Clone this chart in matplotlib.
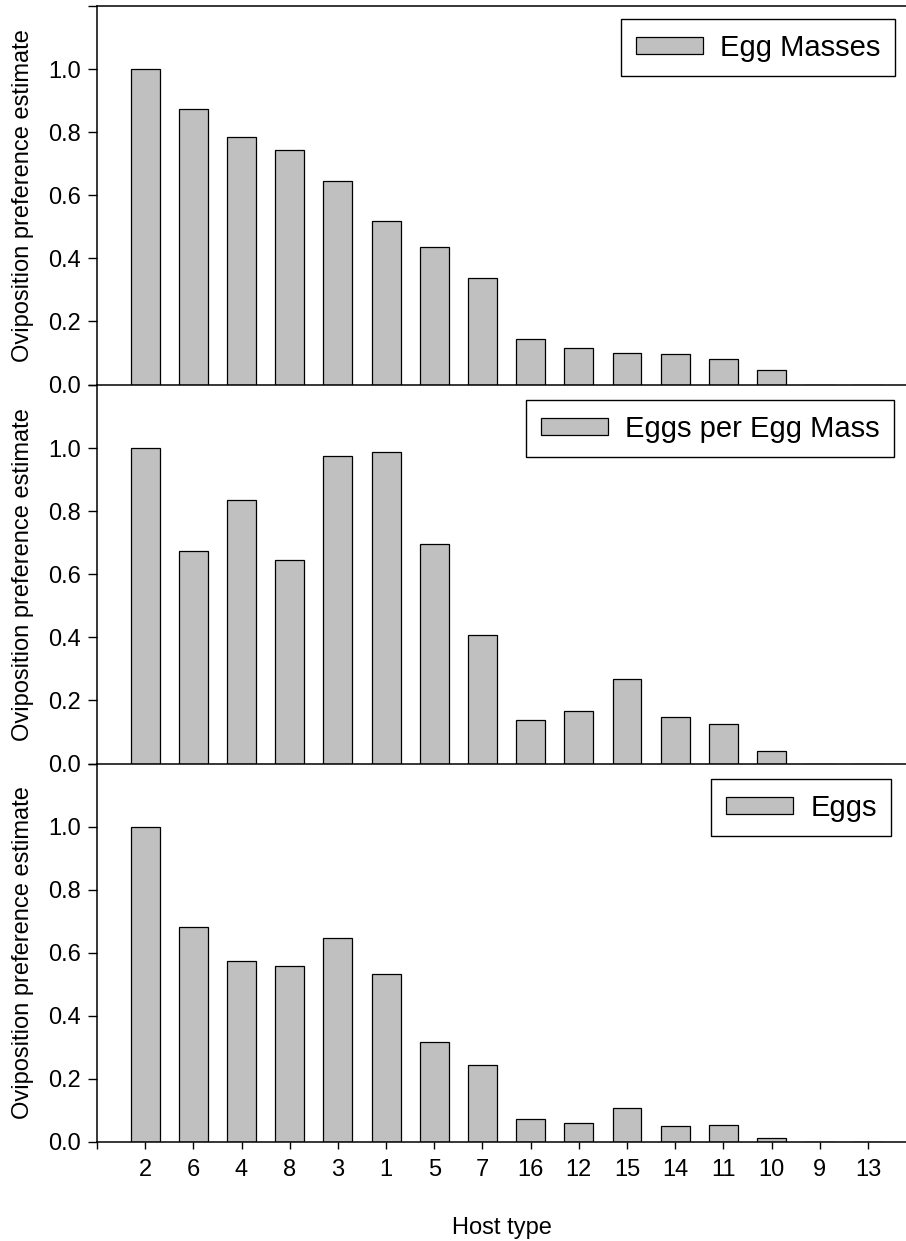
import matplotlib
matplotlib.use("Agg")
import matplotlib.pyplot as plt
import numpy as np

plt.rcParams['font.family'] = ['Liberation Sans', 'DejaVu Sans']

host_types = ['2', '6', '4', '8', '3', '1', '5', '7', '16', '12', '15', '14', '11', '10', '9', '13']

egg_masses = [1.0, 0.873, 0.784, 0.743, 0.646, 0.518, 0.435, 0.338,
              0.143, 0.115, 0.101, 0.096, 0.082, 0.046, 0.0, 0.0]
eggs_per_mass = [1.0, 0.675, 0.834, 0.644, 0.975, 0.989, 0.697, 0.408,
                 0.139, 0.166, 0.268, 0.148, 0.126, 0.040, 0.0, 0.0]
eggs = [1.0, 0.683, 0.575, 0.558, 0.646, 0.533, 0.317, 0.244,
        0.073, 0.059, 0.107, 0.050, 0.054, 0.012, 0.0, 0.0]

series = [egg_masses, eggs_per_mass, eggs]
series_names = ['Egg Masses', 'Eggs per Egg Mass', 'Eggs']
ytick_vals = [0.0, 0.2, 0.4, 0.6, 0.8, 1.0, 1.2]
ytick_labels = ['0.0', '0.2', '0.4', '0.6', '0.8', '1.0', '']

W, H = 906, 1241
fig = plt.figure(figsize=(W / 100, H / 100), dpi=100)

left = 97 / W
width = (W - 97) / W
ph = 378.5
bottoms_px = [384.5, 763.5, 1142]
legend_anchor_px = [(621, 19), (526, 400), (711, 779)]

x = np.arange(1, len(host_types) + 1)

for i, (vals, name) in enumerate(zip(series, series_names)):
    b = bottoms_px[i]
    ax = fig.add_axes([left, 1 - b / H, width, ph / H])
    ax.bar(x, vals, width=0.6, color='#C0C0C0', edgecolor='black',
           linewidth=0.9, label=name, zorder=2)
    ax.set_xlim(0, 16.79)
    ax.set_ylim(0, 1.2)
    ax.set_yticks(ytick_vals)
    ax.set_yticklabels(ytick_labels)
    ax.spines['right'].set_visible(False)
    if i > 0:
        ax.spines['top'].set_visible(False)
    for s in ax.spines.values():
        s.set_linewidth(1.1)
        s.set_zorder(3)
    ax.tick_params(axis='y', direction='out', length=6.5, width=1.0,
                   labelsize=17, pad=5)
    if i < 2:
        ax.tick_params(axis='x', bottom=False, labelbottom=False)
    else:
        ax.set_xticks(np.arange(0, len(host_types) + 1))
        ax.set_xticklabels([''] + host_types)
        ax.tick_params(axis='x', direction='out', length=5, width=1.0,
                       labelsize=17, pad=7)
        ax.set_xlabel('Host type', fontsize=17, labelpad=26)
    ax.patch.set_alpha(0)

    lx, ly = legend_anchor_px[i]
    leg = ax.legend(loc='upper left',
                    bbox_to_anchor=(lx / W, 1 - ly / H),
                    bbox_transform=fig.transFigure,
                    fontsize=21, frameon=True, fancybox=False,
                    edgecolor='black', framealpha=1, borderpad=0.5,
                    handlelength=2.3, handleheight=0.52,
                    handletextpad=0.6, borderaxespad=0)
    leg.get_frame().set_linewidth(1.0)

    center_y = b - ph / 2
    fig.text(23 / W, 1 - center_y / H, 'Oviposition preference estimate',
             rotation=90, ha='center', va='center', fontsize=17)

fig.savefig('out.png', dpi=100)
